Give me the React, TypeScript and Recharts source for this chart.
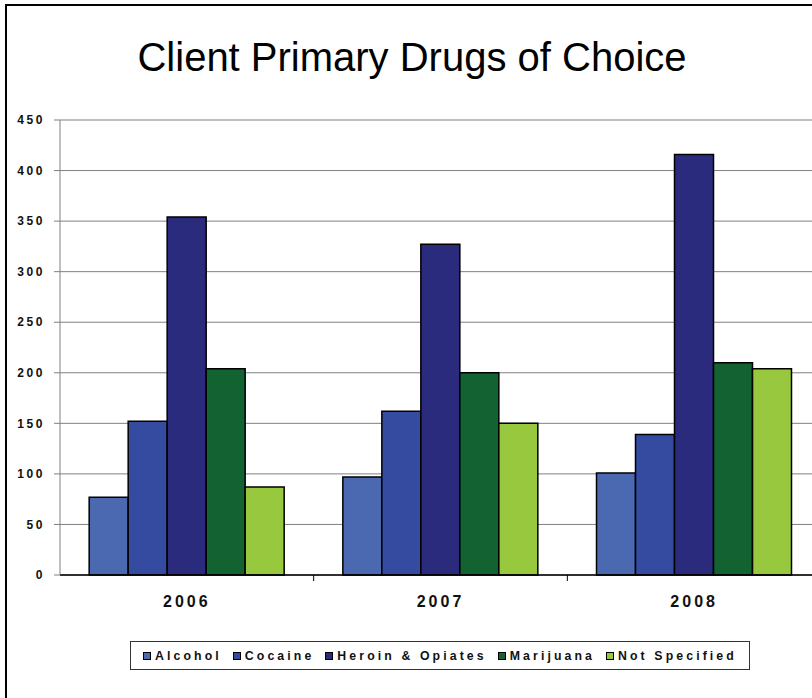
import { BarChart, Bar, XAxis, YAxis, CartesianGrid } from "recharts";

const years = ["2006", "2007", "2008"];
const alcohol = [77, 97, 101];
const cocaine = [152, 162, 139];
const heroin = [354, 327, 416];
const marijuana = [204, 200, 210];
const notSpecified = [87, 150, 204];
const yTicks = [0, 50, 100, 150, 200, 250, 300, 350, 400, 450];

const series = [
  { key: "alcohol", name: "Alcohol", color: "#4a69b0", values: alcohol },
  { key: "cocaine", name: "Cocaine", color: "#344ba0", values: cocaine },
  { key: "heroin", name: "Heroin & Opiates", color: "#2a2b7d", values: heroin },
  { key: "marijuana", name: "Marijuana", color: "#126232", values: marijuana },
  { key: "notSpecified", name: "Not Specified", color: "#98c83d", values: notSpecified },
];

const data = years.map((year, i) => {
  const row: Record<string, string | number> = { year };
  series.forEach((s) => {
    row[s.key] = s.values[i];
  });
  return row;
});

const font = "'Liberation Sans', Arial, sans-serif";
const X_TICK_SIZE = 6;
const X_TICK_MARGIN = 15;

// label at the band centre, tick mark at the band's right edge (Excel style)
function YearTick(props: any) {
  const { x, y, payload } = props;
  const edge = x + (payload.offset || 0);
  const axisY = y - X_TICK_SIZE - X_TICK_MARGIN;
  return (
    <g>
      <line x1={edge} x2={edge} y1={axisY} y2={axisY + X_TICK_SIZE} stroke="#000" />
      <text
        x={x}
        y={y}
        dy="0.71em"
        textAnchor="middle"
        fill="#111"
        fontFamily={font}
        fontWeight="bold"
        fontSize={16}
        letterSpacing={3}
      >
        {payload.value}
      </text>
    </g>
  );
}

function ChartLegend() {
  return (
    <div
      style={{
        position: "absolute",
        left: 130,
        top: 641,
        width: 620,
        height: 29,
        boxSizing: "border-box",
        border: "1px solid #333",
        display: "flex",
        alignItems: "center",
        paddingLeft: 12,
        whiteSpace: "nowrap",
        overflow: "hidden",
        fontFamily: font,
        fontWeight: "bold",
        fontSize: 12.3,
        letterSpacing: 3.1,
        color: "#111",
      }}
    >
      {series.map((s) => (
        <div
          key={s.key}
          style={{ display: "flex", alignItems: "center", marginRight: 11, flexShrink: 0 }}
        >
          <span
            style={{
              display: "inline-block",
              width: 6,
              height: 6,
              background: s.color,
              border: "1.5px solid #000",
              marginRight: 4,
            }}
          />
          <span>{s.name}</span>
        </div>
      ))}
    </div>
  );
}

export default function App() {
  return (
    <div
      style={{
        position: "absolute",
        left: 0,
        top: 0,
        width: 812,
        height: 698,
        overflow: "hidden",
        background: "#fff",
      }}
    >
      <div
        style={{
          position: "absolute",
          left: 5,
          top: 4,
          width: 900,
          height: 800,
          border: "2px solid #000",
        }}
      />
      <div
        style={{
          position: "absolute",
          left: 0,
          top: 37,
          width: 824,
          textAlign: "center",
          fontFamily: font,
          fontSize: 40,
          lineHeight: 1,
          color: "#000",
        }}
      >
        Client Primary Drugs of Choice
      </div>
      <div style={{ position: "absolute", left: 0, top: 0 }}>
        <BarChart
          width={821}
          height={698}
          data={data}
          margin={{ top: 120, right: 0, left: 0, bottom: 83 }}
          barCategoryGap="11.5%"
          barGap={0}
        >
          <CartesianGrid vertical={false} stroke="#808080" strokeWidth={1} />
          <XAxis
            dataKey="year"
            height={40}
            tickLine={false}
            tickSize={X_TICK_SIZE}
            tickMargin={X_TICK_MARGIN}
            axisLine={{ stroke: "#000", strokeWidth: 1.5 }}
            tick={YearTick}
          />
          <YAxis
            width={60}
            domain={[0, 450]}
            ticks={yTicks}
            interval={0}
            tickSize={6}
            tickMargin={9}
            axisLine={{ stroke: "#808080" }}
            tickLine={{ stroke: "#808080" }}
            tick={{
              fill: "#111",
              fontFamily: font,
              fontWeight: "bold",
              fontSize: 12,
              letterSpacing: 2.6,
            }}
          />
          {series.map((s) => (
            <Bar
              key={s.key}
              dataKey={s.key}
              name={s.name}
              fill={s.color}
              stroke="#000"
              strokeWidth={1.5}
              isAnimationActive={false}
            />
          ))}
        </BarChart>
      </div>
      <ChartLegend />
    </div>
  );
}
